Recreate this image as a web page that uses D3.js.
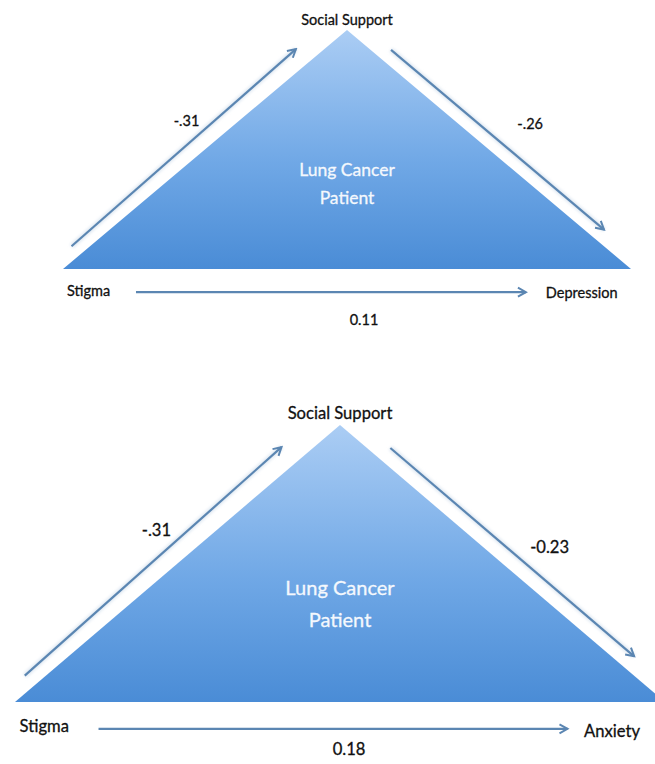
<!DOCTYPE html>
<html>
<head>
<meta charset="utf-8">
<script src="https://cdn.jsdelivr.net/npm/d3@7"></script>
<style>
  html, body { margin: 0; padding: 0; background: #fff; }
  svg { display: block; }
  text { font-family: Lato, "Open Sans", sans-serif; }
</style>
</head>
<body>
<svg id="chart"></svg>
<script>
// path model: Stigma -> Social Support -> outcome, plus direct path
const outcomes = ["Depression", "Anxiety"];
const mediator = "Social Support";
const predictor = "Stigma";
const centerLines = ["Lung Cancer", "Patient"];
const coefA = ["-.31", "-.31"];    // Stigma -> Social Support
const coefB = ["-.26", "-0.23"];   // Social Support -> outcome
const coefC = ["0.11", "0.18"];    // Stigma -> outcome (direct)

const W = 655, H = 764;

// geometry of each panel (pixels); everything else goes through scales in unit coords
const layout = [
  {apex: 30, base: 269, left: 63, right: 631, hEnd: 0.63, outX: 0.70, outY: 1.10, cX: 0.06, cY: 1.213, bY: 0.39},
  {apex: 425, base: 702, left: 15, right: 665, hEnd: 0.70, outX: 0.751, outY: 1.105, cX: 0.028, cY: 1.17, bY: 0.44}
];

const svg = d3.select('#chart').attr('width', W).attr('height', H);
const defs = svg.append('defs');

const grad = defs.append('linearGradient')
  .attr('id', 'triGrad').attr('x1', 0).attr('y1', 0).attr('x2', 0).attr('y2', 1);
grad.append('stop').attr('offset', '0%').attr('stop-color', '#abcdf4');
grad.append('stop').attr('offset', '55%').attr('stop-color', '#70a8e6');
grad.append('stop').attr('offset', '100%').attr('stop-color', '#4a8cd6');

const arrowCol = '#5b86b2';
defs.append('marker')
  .attr('id', 'head')
  .attr('markerUnits', 'userSpaceOnUse')
  .attr('viewBox', '-10 -6 12 12')
  .attr('refX', 0).attr('refY', 0)
  .attr('markerWidth', 12).attr('markerHeight', 12)
  .attr('orient', 'auto')
  .append('path')
  .attr('d', 'M-8,-4.5 L0,0 L-8,4.5')
  .attr('fill', 'none')
  .attr('stroke', arrowCol)
  .attr('stroke-width', 2);

const blur = defs.append('filter').attr('id', 'soft')
  .attr('x', '-10%').attr('y', '-50%').attr('width', '120%').attr('height', '200%');
blur.append('feGaussianBlur').attr('stdDeviation', 1.5);

outcomes.forEach((outcome, i) => {
  const L = layout[i];
  const x = d3.scaleLinear().domain([-1, 1]).range([L.left, L.right]);
  const y = d3.scaleLinear().domain([0, 1]).range([L.apex, L.base]);
  const s = (L.right - L.left) / 568;   // relative size of panel
  const fs = 14.5 * s;
  const g = svg.append('g');

  // faint reflection under the base
  g.append('line')
    .attr('x1', x(-1) + 4).attr('x2', x(1) - 4)
    .attr('y1', y(1) + 3).attr('y2', y(1) + 3)
    .attr('stroke', '#c9dbee').attr('stroke-width', 3)
    .attr('filter', 'url(#soft)');

  const tri = d3.line().x(d => x(d[0])).y(d => y(d[1]));
  g.append('path')
    .attr('d', tri([[0, 0], [1, 1], [-1, 1]]) + 'Z')
    .attr('fill', 'url(#triGrad)');

  // arrows
  const arrows = [
    [[-0.97, 0.905], [-0.18, 0.08]],
    [[0.155, 0.083], [0.905, 0.835]],
    [[-0.743, 1.097], [L.hEnd, 1.097]]
  ];
  g.selectAll('line.halo').data(arrows).join('line')
    .attr('class', 'halo')
    .attr('x1', d => x(d[0][0])).attr('y1', d => y(d[0][1]))
    .attr('x2', d => x(d[1][0])).attr('y2', d => y(d[1][1]))
    .attr('stroke', '#dfe8f2').attr('stroke-width', 5)
    .attr('filter', 'url(#soft)');
  g.selectAll('line.arrow').data(arrows).join('line')
    .attr('class', 'arrow')
    .attr('x1', d => x(d[0][0])).attr('y1', d => y(d[0][1]))
    .attr('x2', d => x(d[1][0])).attr('y2', d => y(d[1][1]))
    .attr('stroke', arrowCol).attr('stroke-width', 2.2)
    .attr('marker-end', 'url(#head)');

  const label = (txt, ux, uy, anchor, size, fill) => g.append('text')
    .attr('x', x(ux)).attr('y', y(uy))
    .attr('text-anchor', anchor)
    .attr('dominant-baseline', 'central')
    .attr('font-size', size)
    .attr('fill', fill || '#111')
    .attr('stroke', fill || '#111')
    .attr('stroke-width', 0.3)
    .text(txt);

  label(mediator, 0, -0.045, 'middle', fs);
  label(predictor, -0.986, 1.088, 'start', fs);
  label(outcome, L.outX, L.outY, 'start', fs);
  label(coefA[i], -0.565, 0.38, 'middle', fs);
  label(coefB[i], 0.645, L.bY, 'middle', fs);
  label(coefC[i], L.cX, L.cY, 'middle', fs);

  centerLines.forEach((t, k) => {
    label(t, 0, k === 0 ? 0.585 : 0.7, 'middle', 17.5 * s, '#f4f8fd');
  });
});
</script>
</body>
</html>
